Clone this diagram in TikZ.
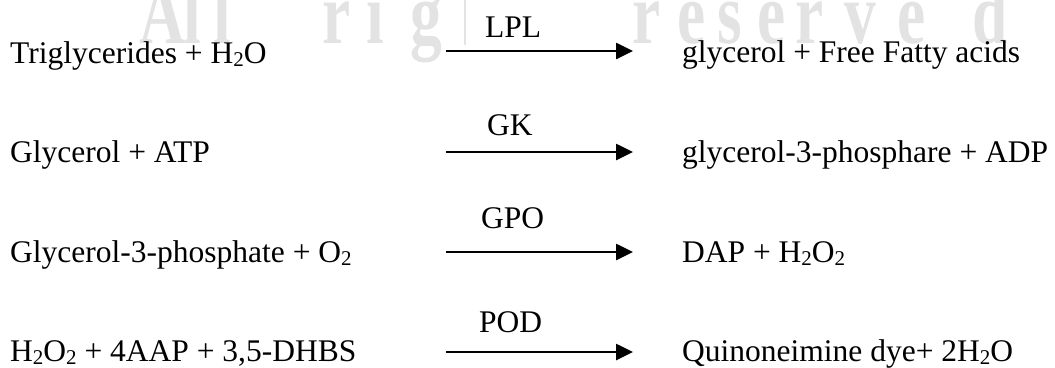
\documentclass[tikz,border=0pt]{standalone}
\usepackage{fontspec}
\setmainfont{Liberation Serif}
\usepackage{graphicx}
\usetikzlibrary{arrows.meta}
\newcommand\sbs[1]{\raisebox{-3pt}{\fontsize{21}{21}\selectfont #1}}
\begin{document}
\begin{tikzpicture}[x=1pt,y=-1pt,
  txt/.style={anchor=base west,inner sep=0pt,font=\fontsize{31.5}{36}\selectfont},
  rxn/.style={line width=2.6pt,-{Triangle[length=17pt,width=16pt]}},
  wm/.style={anchor=base,inner sep=0pt,text=black!11,font=\fontsize{88}{88}\selectfont\bfseries}]
\useasboundingbox (0,0) rectangle (1055,367);
\begin{scope}
\clip (0,0) rectangle (1055,367);
\foreach \ch/\x [count=\i] in {A/162,l/192,l/222,r/337,i/375,g/426,r/647,e/692,s/730,e/772,r/810,v/860,e/912,d/990}{
  \node[wm] (wm\i) at (\x,43) {\scalebox{0.72}[1]{\ch}};
}
\draw[black!11,line width=1.5pt] (465,0) -- (465,45);
\end{scope}
% reactants
\node[txt] (r1) at (10,63) {Triglycerides + H\sbs{2}O};
\node[txt] (r2) at (10,162) {Glycerol + ATP};
\node[txt] (r3) at (10,262) {Glycerol-3-phosphate + O\sbs{2}};
\node[txt] (r4) at (10,361) {H\sbs{2}O\sbs{2} + 4AAP + 3,5-DHBS};
% products
\node[txt] (p1) at (682,62) {glycerol + Free Fatty acids};
\node[txt] (p2) at (682,162) {glycerol-3-phosphare + ADP};
\node[txt] (p3) at (682,262) {DAP + H\sbs{2}O\sbs{2}};
\node[txt] (p4) at (682,361) {Quinoneimine dye+ 2H\sbs{2}O};
% enzymes
\node[txt] (e1) at (485,37) {LPL};
\node[txt] (e2) at (487,135) {GK};
\node[txt] (e3) at (481,228) {GPO};
\node[txt] (e4) at (479,332) {POD};
% arrows
\coordinate (a1s) at (446,51);  \coordinate (a1e) at (633,51);
\coordinate (a2s) at (446,152); \coordinate (a2e) at (633,152);
\coordinate (a3s) at (446,252); \coordinate (a3e) at (633,252);
\coordinate (a4s) at (446,352); \coordinate (a4e) at (633,352);
\draw[rxn] (a1s) -- (a1e);
\draw[rxn] (a2s) -- (a2e);
\draw[rxn] (a3s) -- (a3e);
\draw[rxn] (a4s) -- (a4e);
\end{tikzpicture}
\end{document}
